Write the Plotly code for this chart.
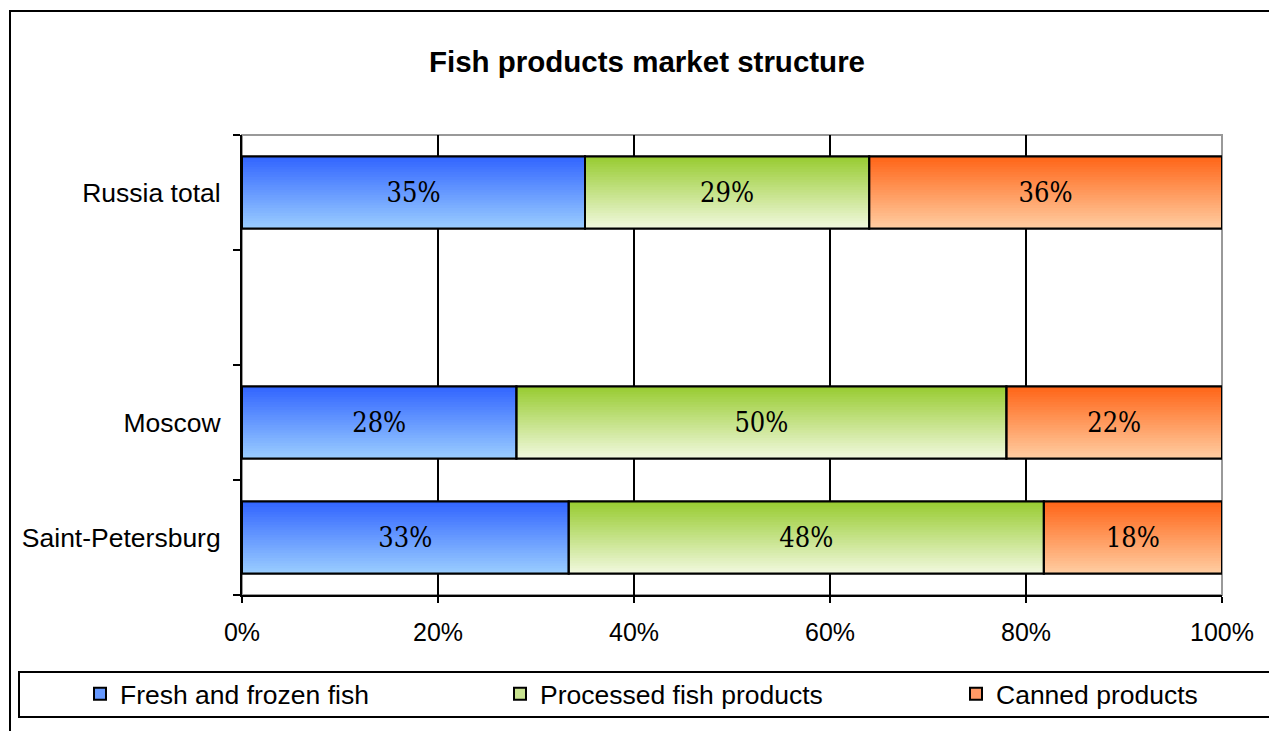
import numpy as np
import plotly.graph_objects as go

# ---------------- data ----------------
categories = ["Russia total", "Moscow", "Saint-Petersburg"]
fresh = [35, 28, 33]
processed = [29, 50, 48]
canned = [36, 22, 18]
series_names = ["Fresh and frozen fish", "Processed fish products", "Canned products"]
y_order = ["Saint-Petersburg", "Moscow", " ", "Russia total"]
x_ticks = [0, 20, 40, 60, 80, 100]
x_tick_labels = ["0%", "20%", "40%", "60%", "80%", "100%"]
title_text = "Fish products market structure"

# ---------------- style ----------------
OFF = 8  # page body margin
W, H = 1277 - OFF, 731 - OFF
L, R, T, B = 242 - OFF, 1222 - OFF, 135 - OFF, 595 - OFF
SANS = "Liberation Sans, Arial, sans-serif"
SERIF = "DejaVu Serif Condensed, DejaVu Serif, serif"
grad = [  # (top, bottom, mid)
    ("#3366FF", "#99CCFF", "#6699FF"),
    ("#99CC33", "#F0F8DC", "#C8E390"),
    ("#FF6619", "#FFCCA0", "#FF9966"),
]
BAR = 0.626
N = 28


def px_x(p):
    return (p - OFF - L) / (R - L)


def px_y(p):
    return (B - (p - OFF)) / (B - T)


def hex2rgb(h):
    h = h.lstrip("#")
    return np.array([int(h[i:i + 2], 16) for i in (0, 2, 4)], dtype=float)


def mix(c1, c2, t):
    c = hex2rgb(c1) * (1 - t) + hex2rgb(c2) * t
    return "rgb(%d,%d,%d)" % tuple(np.round(c).astype(int))


values = np.array([fresh, processed, canned], dtype=float)
shares = values / values.sum(axis=0) * 100.0
bases = np.vstack([np.zeros(len(categories)), np.cumsum(shares, axis=0)[:-1]])

fig = go.Figure()
legends = ["legend", "legend2", "legend3"]

# legend / base bars
for k, name in enumerate(series_names):
    fig.add_trace(go.Bar(
        y=categories, x=shares[k], base=bases[k], orientation="h", width=BAR,
        name=name, legend=legends[k],
        marker=dict(color=grad[k][2], line=dict(color="black", width=2)),
        hoverinfo="skip",
    ))

# gradient slices
for k in range(3):
    top, bot, _ = grad[k]
    for i in range(N):
        start = -BAR / 2 + i * BAR / N
        t = i / (N - 1)
        fig.add_trace(go.Bar(
            y=categories, x=shares[k], base=bases[k], orientation="h",
            width=BAR / 2 - start, offset=start,
            marker=dict(color=mix(bot, top, t), line=dict(width=0)),
            showlegend=False, hoverinfo="skip",
        ))

# outlines + labels
for k in range(3):
    fig.add_trace(go.Bar(
        y=categories, x=shares[k], base=bases[k], orientation="h", width=BAR,
        marker=dict(color="rgba(0,0,0,0)", line=dict(color="black", width=2)),
        text=["%d%%" % v for v in values[k]], textposition="inside",
        insidetextanchor="middle", textangle=0, constraintext="none",
        textfont=dict(family=SERIF, size=27, color="black"),
        showlegend=False, hoverinfo="skip",
    ))

shapes = [
    # plot-area frame (gray top/right)
    dict(type="rect", xref="paper", yref="paper", x0=0, x1=1, y0=0, y1=1,
         line=dict(color="#999999", width=2), layer="below"),
    # outer chart border
    dict(type="rect", xref="paper", yref="paper", x0=px_x(10), x1=px_x(1300),
         y0=px_y(760), y1=px_y(11), line=dict(color="black", width=2)),
    # legend box
    dict(type="rect", xref="paper", yref="paper", x0=px_x(19), x1=px_x(1270),
         y0=px_y(717), y1=px_y(672), line=dict(color="black", width=2)),
]

legend_common = dict(orientation="h", font=dict(family=SANS, size=26.5, color="black"),
                     bgcolor="rgba(0,0,0,0)", borderwidth=0,
                     xref="container", yref="container", yanchor="middle",
                     xanchor="left", y=1 - (694 - OFF) / H)
leg_x = [80, 500, 956]

fig.update_layout(
    width=W, height=H, autosize=False,
    margin=dict(l=L, r=W - R, t=T, b=H - B),
    paper_bgcolor="white", plot_bgcolor="white",
    barmode="overlay",
    title=dict(text="<b>%s</b>" % title_text, x=(647 - OFF) / W, xanchor="center",
               xref="container", yref="container", y=1 - (62 - OFF) / H, yanchor="middle",
               font=dict(family=SANS, size=29.5, color="black")),
    xaxis=dict(range=[0, 100], tickvals=x_ticks, ticktext=x_tick_labels,
               ticks="outside", ticklen=6, tickwidth=2, tickcolor="black",
               showgrid=True, gridcolor="black", gridwidth=1.5,
               showline=True, linecolor="black", linewidth=2, zeroline=False,
               tickfont=dict(family=SANS, size=25, color="black"),
               ticklabelstandoff=8, fixedrange=True),
    yaxis=dict(type="category", categoryorder="array", categoryarray=y_order,
               range=[-0.5, 3.5], tickson="boundaries", ticks="outside",
               ticklen=7, tickwidth=2, tickcolor="black", showgrid=False,
               showline=True, linecolor="black", linewidth=2, zeroline=False,
               tickfont=dict(family=SANS, size=26.5, color="black"),
               ticklabelstandoff=14, fixedrange=True),
    legend=dict(x=(leg_x[0] - OFF) / W, **legend_common),
    legend2=dict(x=(leg_x[1] - OFF) / W, **legend_common),
    legend3=dict(x=(leg_x[2] - OFF) / W, **legend_common),
    shapes=shapes,
    showlegend=True,
)

fig.write_html("out.html")
